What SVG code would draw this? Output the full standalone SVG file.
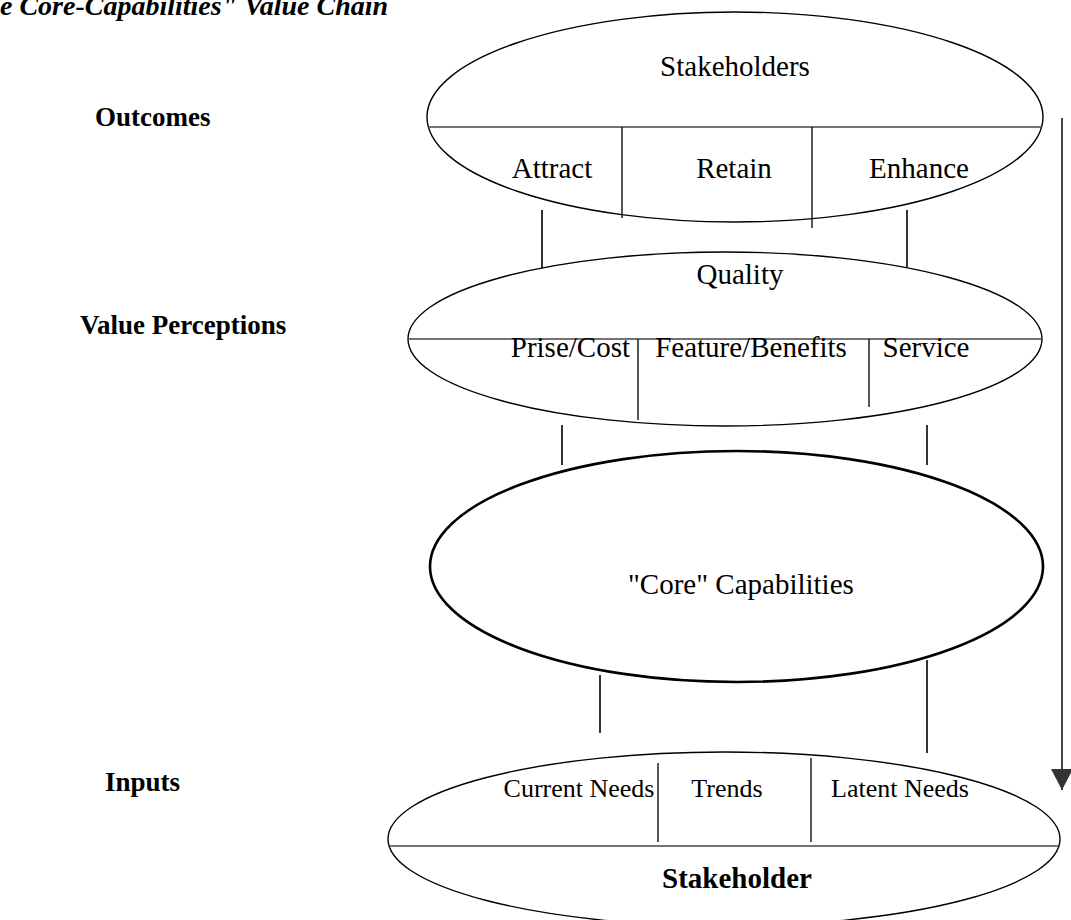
<svg xmlns="http://www.w3.org/2000/svg" width="1071" height="920" viewBox="0 0 1071 920">
  <style>
    .t { font-family: "Liberation Serif", "Times New Roman", serif; fill: #000; }
    .reg { font-size: 29px; }
    .small { font-size: 26px; }
    .lab { font-size: 27px; font-weight: bold; }
    .ell { fill: none; stroke: #000; stroke-width: 1.4; }
    .ell-bold { fill: none; stroke: #000; stroke-width: 2.6; }
    .split { stroke: #444; stroke-width: 1.6; }
    .div { stroke: #111; stroke-width: 1.4; }
    .link { stroke: #000; stroke-width: 1.6; }
  </style>
  <defs>
    <marker id="flowHead" markerWidth="22" markerHeight="22" refX="21" refY="11" orient="auto" markerUnits="userSpaceOnUse" viewBox="0 0 22 22">
      <path d="M0,0 L21,11 L0,22 Z" fill="#333"/>
    </marker>
  </defs>
  <rect width="1071" height="920" fill="#fff"/>

  <!-- title -->
  <text class="t" x="0" y="15" font-size="28" font-weight="bold" font-style="italic">e Core-Capabilities" Value Chain</text>

  <!-- level labels -->
  <g id="labels">
    <text class="t lab" x="95" y="126">Outcomes</text>
    <text class="t lab" x="80" y="334">Value Perceptions</text>
    <text class="t lab" x="105" y="791">Inputs</text>
  </g>

  <!-- Outcomes ellipse -->
  <g id="outcomes">
    <ellipse class="ell" cx="735" cy="117" rx="308" ry="105"/>
    <line class="split" x1="428" y1="127" x2="1042" y2="127"/>
    <line class="div" x1="622" y1="127" x2="622" y2="218"/>
    <line class="div" x1="812" y1="127" x2="812" y2="228"/>
    <text class="t reg" x="735" y="76" text-anchor="middle">Stakeholders</text>
    <text class="t reg" x="552" y="178" text-anchor="middle">Attract</text>
    <text class="t reg" x="734" y="178" text-anchor="middle">Retain</text>
    <text class="t reg" x="919" y="178" text-anchor="middle">Enhance</text>
  </g>

  <!-- Value perceptions ellipse -->
  <g id="value-perceptions">
    <ellipse class="ell" cx="725" cy="339" rx="317" ry="87"/>
    <line class="split" x1="408" y1="339" x2="1042" y2="339"/>
    <line class="div" x1="638" y1="339" x2="638" y2="420"/>
    <line class="div" x1="869" y1="339" x2="869" y2="407"/>
    <text class="t reg" x="740" y="284" text-anchor="middle">Quality</text>
    <text class="t reg" x="630" y="357" text-anchor="end">Prise/Cost</text>
    <text class="t reg" x="751" y="357" text-anchor="middle">Feature/Benefits</text>
    <text class="t reg" x="926" y="357" text-anchor="middle">Service</text>
  </g>

  <!-- Core capabilities ellipse -->
  <g id="core-capabilities">
    <ellipse class="ell-bold" cx="736.5" cy="566.5" rx="306.5" ry="115.5"/>
    <text class="t reg" x="628" y="594">"Core" Capabilities</text>
  </g>

  <!-- Inputs ellipse -->
  <g id="inputs">
    <ellipse class="ell" cx="724" cy="839" rx="336" ry="87"/>
    <line class="split" x1="388" y1="846" x2="1060" y2="846"/>
    <line class="div" x1="658" y1="763" x2="658" y2="842"/>
    <line class="div" x1="811" y1="758" x2="811" y2="842"/>
    <text class="t small" x="579" y="797" text-anchor="middle">Current Needs</text>
    <text class="t small" x="727" y="797" text-anchor="middle">Trends</text>
    <text class="t small" x="900" y="797" text-anchor="middle">Latent Needs</text>
    <text class="t" x="737" y="888" text-anchor="middle" font-size="29" font-weight="bold">Stakeholder</text>
  </g>

  <!-- connectors between levels and the flow arrow -->
  <g id="connectors">
    <line class="link" x1="542" y1="210" x2="542" y2="268"/>
    <line class="link" x1="907" y1="210" x2="907" y2="267"/>
    <line class="link" x1="562" y1="425" x2="562" y2="465"/>
    <line class="link" x1="927" y1="425" x2="927" y2="465"/>
    <line class="link" x1="600" y1="675" x2="600" y2="733"/>
    <line class="link" x1="927" y1="660" x2="927" y2="753"/>
    <line x1="1062" y1="118" x2="1062" y2="790" stroke="#444" stroke-width="2" marker-end="url(#flowHead)"/>
  </g>
</svg>
